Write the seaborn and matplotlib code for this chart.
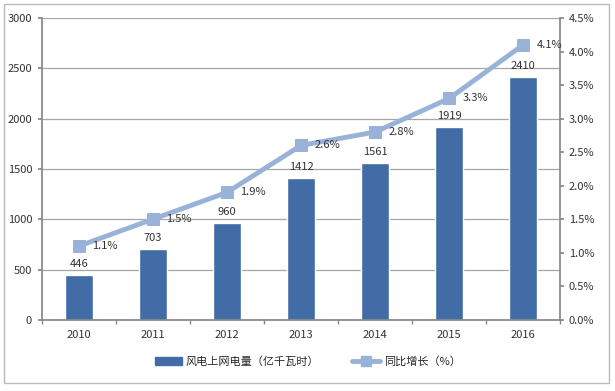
import matplotlib
matplotlib.use("Agg")
import matplotlib.pyplot as plt
import seaborn as sns
import pandas as pd
from matplotlib.patches import Rectangle
from matplotlib.lines import Line2D
from matplotlib.ticker import FuncFormatter, MultipleLocator, FixedLocator

years = ["2010", "2011", "2012", "2013", "2014", "2015", "2016"]
power = [446, 703, 960, 1412, 1561, 1919, 2410]
growth = [1.1, 1.5, 1.9, 2.6, 2.8, 3.3, 4.1]

bar_label = "风电上网电量（亿千瓦时）"
line_label = "同比增长（%）"

bar_color = "#416CA5"
line_color = "#98B2D8"

sns.set_theme(style="white")
plt.rcParams["font.family"] = ["Noto Sans CJK SC", "DejaVu Sans"]

df = pd.DataFrame({"year": years, "power": power, "growth": growth})

fig = plt.figure(figsize=(6.15, 3.91), dpi=100)
ax = fig.add_axes([0.068, 0.182, 0.843, 0.772])

sns.barplot(data=df, x="year", y="power", color=bar_color, width=0.38,
            saturation=1, ax=ax, zorder=2)
ax.set_ylim(0, 3000)
ax.set_xlim(-0.5, 6.5)
ax.yaxis.set_major_locator(MultipleLocator(500))
ax.xaxis.set_minor_locator(FixedLocator([i - 0.5 for i in range(len(years) + 1)]))
ax.grid(axis="y", color="#A6A6A6", linewidth=0.9, zorder=0)
ax.set_axisbelow(True)
ax.set_xlabel("")
ax.set_ylabel("")
for s in ["top", "right"]:
    ax.spines[s].set_visible(False)
ax.spines["left"].set_color("#888888")
ax.spines["bottom"].set_color("#888888")
ax.tick_params(axis="x", which="major", labelsize=8, colors="#333333", length=0, pad=7)
ax.tick_params(axis="x", which="minor", length=3, color="#888888", bottom=True)
ax.tick_params(axis="y", labelsize=8, colors="#333333", length=3, color="#888888",
               left=True, pad=4)

for i, v in enumerate(power):
    ax.text(i, v + 60, str(v), ha="center", va="bottom", fontsize=8, color="#333333", zorder=5)

ax2 = ax.twinx()
sns.lineplot(x=list(range(len(years))), y=growth, ax=ax2, color=line_color,
             linewidth=3.5, marker="s", markersize=9, markeredgecolor=line_color,
             zorder=4)
ax2.set_ylim(0, 4.5)
ax2.yaxis.set_major_locator(MultipleLocator(0.5))
ax2.yaxis.set_major_formatter(FuncFormatter(lambda v, p: f"{v:.1f}%"))
for s in ["top", "left", "bottom"]:
    ax2.spines[s].set_visible(False)
ax2.spines["right"].set_color("#888888")
ax2.tick_params(axis="y", labelsize=8, colors="#333333", length=3, color="#888888",
                right=True, pad=3)
ax2.grid(False)

for i, g in enumerate(growth):
    ax2.text(i + 0.18, g, f"{g:.1f}%", ha="left", va="center", fontsize=8, color="#333333", zorder=6)

handles = [
    Rectangle((0, 0), 1, 1, color=bar_color),
    Line2D([0], [0], color=line_color, linewidth=3.5, marker="s", markersize=7),
]
fig.legend(handles, [bar_label, line_label], loc="center", bbox_to_anchor=(0.5, 0.075),
           ncol=2, frameon=False, fontsize=8, handlelength=2.5, columnspacing=3,
           handletextpad=0.3)

fig.patches.append(Rectangle((0.006, 0.02), 0.985, 0.97, transform=fig.transFigure,
                             fill=False, edgecolor="#BBBBBB", linewidth=1))

fig.savefig("out.png", dpi=100)
